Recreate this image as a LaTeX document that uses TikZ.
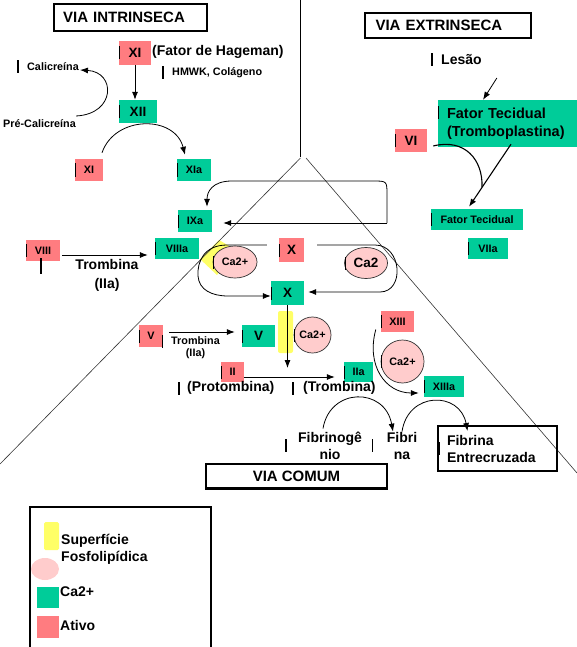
\documentclass[tikz,border=0pt]{standalone}
\usepackage{fontspec}
\setmainfont{Liberation Sans}
\usetikzlibrary{arrows.meta,shapes.geometric}
\definecolor{ativo}{HTML}{FF7C80}
\definecolor{cagreen}{HTML}{00CC99}
\definecolor{fosfo}{HTML}{FFFF66}
\definecolor{ionpink}{HTML}{FFCCCC}
\newcommand{\fbig}{\fontsize{13.5}{16}\selectfont\bfseries}
\newcommand{\fmid}{\fontsize{14}{17}\selectfont\bfseries}
\newcommand{\fsml}{\fontsize{10.8}{12}\selectfont\bfseries}
\newcommand{\ftitle}{\fontsize{15}{18}\selectfont\bfseries}
\tikzset{
    curbar/.style={fill=black,inner sep=0pt,minimum width=1.2pt,minimum height=13pt,anchor=center},
    cur/.style={label={[curbar,xshift=#1]west:{}}},
    cur/.default=1pt,
    sz/.style 2 args={minimum width=#1pt,minimum height=#2pt},
    factor/.style={rectangle,inner sep=0pt,font=\fsml},
    ativ/.style={factor,fill=ativo},
    cal/.style={factor,fill=cagreen},
    caion/.style={ellipse,draw=black!80,line width=0.7pt,fill=ionpink,inner sep=0pt,font=\fsml},
    txt/.style={inner sep=0pt,font=\fmid,align=center},
    titlebox/.style={draw,line width=2.4pt,inner ysep=0pt,inner xsep=9pt,align=left,font=\ftitle},
    endbox/.style={draw,line width=2pt,inner ysep=0pt,inner xsep=9pt,align=left,font=\fmid},
    arr/.style={-{Latex[length=8pt,width=6pt]},line width=0.8pt},
    guide/.style={line width=0.6pt,black!80}
}
\begin{document}
\begin{tikzpicture}[x=1pt,y=-1pt]
    \useasboundingbox (0,0) rectangle (577,647);
    % phospholipid surfaces
    \fill[fosfo] (200,259) -- (219,240) -- (236,250) -- (217,275) -- cycle;
    \fill[fosfo,rounded corners=2pt] (278,311) rectangle (293,353);
    % dividing lines
    \draw[guide,black] (300,0) -- (300,157);
    \draw[guide] (300.5,158) -- (0,464);
    \draw[guide] (306,158) -- (577,473);

    % titles
    \node[titlebox,sz={152.6}{26.6},text width=134.6pt] (intr) at (130.5,17.5) {VIA INTRINSECA};
    \node[titlebox,sz={165.6}{24.6},text width=145pt,inner xsep=10pt] (extr) at (448,25.5) {VIA EXTRINSECA};
    \node[titlebox,sz={181}{24.6},align=center] (comum) at (296.5,476) {VIA COMUM};

    % intrinsic pathway
    \node[ativ,sz={32}{24},font=\fbig,cur] (xi) at (135,53) {XI};
    \node[txt,anchor=west] (hageman) at (152,52) {(Fator de Hageman)};
    \node[inner sep=0pt,font=\fsml,anchor=west,cur=-9pt] (hmwk) at (172,73) {HMWK, Colágeno};
    \node[inner sep=0pt,font=\fsml,anchor=west,cur=-9pt] (calic) at (27,67) {Calicreína};
    \node[inner sep=0pt,font=\fsml,anchor=west] (precal) at (3,124) {Pré-Calicreína};
    \node[cal,sz={38}{23},font=\fbig,cur] (xii) at (138,111.5) {XII};
    \node[ativ,sz={28}{22},cur] (xis) at (89,170) {XI};
    \node[cal,sz={34}{22},cur] (xia) at (194,170) {XIa};
    \node[cal,sz={34}{22},cur] (ixa) at (195,221) {IXa};
    \node[ativ,sz={34}{21},cur,label={[curbar,minimum height=16pt,xshift=-2pt,yshift=-5pt]south:{}}] (viii) at (43,250.5) {VIII};
    \node[cal,sz={44}{21},cur] (viiia) at (177,248.5) {VIIIa};
    \node[txt,font={\fontsize{14}{19}\selectfont\bfseries}] (tromba) at (107,275.5) {Trombina\\(IIa)};

    % common pathway
    \node[ativ,sz={25}{24},font=\fbig,cur] (xr) at (291.5,250) {X};
    \node[caion,sz={44}{32},cur] (caa) at (235,262) {Ca2+};
    \node[caion,sz={43}{31},font=\fbig,cur] (cab) at (366,263) {Ca2};
    \node[cal,sz={33}{24},font=\fbig,cur] (xg) at (287.5,293) {X};
    \node[ativ,sz={24}{22},cur,label={[curbar,xshift=-1pt,yshift=-5.5pt]east:{}}] (vr) at (151,336) {V};
    \node[inner sep=0pt,font=\fsml,align=center] (trombb) at (195.5,348) {Trombina\\(IIa)};
    \node[cal,sz={33}{22},font=\fbig,cur] (vg) at (258.5,336) {V};
    \node[caion,sz={37}{36},cur] (cac) at (312.5,335) {Ca2+};
    \node[ativ,sz={23}{20},cur] (iir) at (232.5,372) {II};
    \node[cal,sz={29}{20},cur] (iia) at (358.5,372) {IIa};
    \node[txt,anchor=west,cur=-8pt] (protomb) at (187,388) {(Protombina)};
    \node[txt,anchor=west,cur=-10pt] (trombc) at (303,388) {(Trombina)};
    \node[ativ,sz={33}{21},cur] (xiii) at (397.5,321.5) {XIII};
    \node[caion,sz={43}{43},cur] (cad) at (402.5,361.5) {Ca2+};
    \node[cal,sz={40}{21},cur] (xiiia) at (444,386.5) {XIIIa};
    \node[txt,cur=-12pt] (fbg) at (330,445.5) {Fibrinogê\\nio};
    \node[txt,cur=-14pt] (fbn) at (402,445.5) {Fibri\\na};
    \node[endbox,sz={119}{45},text width=101pt,cur=2pt] (fibx) at (497.5,448.5) {Fibrina\\Entrecruzada};

    % extrinsic pathway
    \node[txt,anchor=west,cur=-9pt] (lesao) at (441,60) {Lesão};
    \node[cal,sz={139}{47},font={\fontsize{14.5}{18}\selectfont\bfseries},text width=121pt,align=left,
          label={[curbar,xshift=1pt,yshift=11pt]west:{}}] (ftb) at (507.5,123.5) {Fator Tecidual\\(Tromboplastina)};
    \node[ativ,sz={32}{23},font=\fbig,cur] (vi) at (411,140.5) {VI};
    \node[cal,sz={92}{21},cur] (fts) at (477,219.5) {Fator Tecidual};
    \node[cal,sz={40}{21},cur] (viia) at (488,248.5) {VIIa};

    % connectors
    \draw[arr] (xi.south) -- (xi.south |- xii.north);
    \draw[arr] ([yshift=8pt]precal.east) .. controls (116,114) and (116,72) .. ([xshift=1pt,yshift=-3pt]calic.east);
    \draw[arr] ([xshift=13pt,yshift=6pt]xis.north) .. controls (115,115) and (175,115) .. ([xshift=-9pt,yshift=4pt]xia.north);
    \coordinate (loopr) at (387,223);
    \draw[arr] (loopr) -- ([xshift=11pt,yshift=-2pt]ixa.east);
    \draw[arr] (loopr) -- (387,195) .. controls (387,181) .. (373,181) -- (232,181)
        .. controls (212,181) and (207,192) .. ([xshift=12pt,yshift=3pt]ixa.north);
    \draw[arr] ([xshift=2pt,yshift=-4.5pt]viii.east) -- ([xshift=-7pt,yshift=-6.5pt]viiia.west);
    \draw[arr] ([xshift=-12pt,yshift=5pt]xr.west) -- (227,245) .. controls (204,245) and (197,262) .. (198,276)
        .. controls (199,290) and (212,296) .. (228,296) -- ([yshift=-3pt]xg.west);
    \draw[arr] ([xshift=13pt,yshift=5pt]xr.east) -- (375,245) .. controls (402,245) and (405,292) .. (380,292)
        -- ([xshift=4pt,yshift=1pt]xg.east);
    \coordinate (xdown) at (287.5,368);
    \draw[arr] (xg.south) -- (xdown);
    \draw[arr] ([xshift=6pt,yshift=4pt]vr.east) -- ([xshift=-7pt,yshift=4pt]vg.west);
    \draw[arr] ([yshift=-5pt]iir.east) -- ([xshift=-9pt,yshift=-5pt]iia.west);
    \draw[arr] ([xshift=-5pt,yshift=-8pt]xiii.west) .. controls (366,365) and (385,393) .. ([xshift=-5pt,yshift=-6.5pt]xiiia.west);
    \draw[arr] ([xshift=-7pt,yshift=3pt]fbg.north) .. controls (330,387) and (385,387) .. ([xshift=-9pt]fbn.north);
    \draw[arr] (fbn.north) .. controls (408,391) and (460,391) .. ([xshift=-30pt,yshift=-6pt]fibx.north);
    \draw[arr] ([xshift=15pt,yshift=-18pt]lesao.east) -- ([xshift=-24.5pt]ftb.north);
    \coordinate (vimeet) at (482,187);
    \draw[line width=1.1pt] ([xshift=6pt,yshift=-5.5pt]vi.east) .. controls (465,138) and (483,160) .. (vimeet);
    \draw[arr,line width=1.1pt] ([xshift=3.5pt,yshift=3pt]ftb.south) -- ([xshift=-8pt,yshift=2pt]fts.north);

    % legend
    \draw[line width=1.6pt] (29.8,506.8) rectangle (211.2,660);
    \fill[fosfo,rounded corners=1.5pt] (44,522) rectangle (59,550);
    \fill[ionpink] (45,569) ellipse (14pt and 11pt);
    \fill[cagreen] (37,587) rectangle (59,608);
    \fill[ativo] (37,616) rectangle (59,638);
    \node[txt,anchor=west,align=left] (lgsup) at (61,549.5) {Superfície\\Fosfolipídica};
    \node[txt,anchor=west] (lgca) at (60,592) {Ca2+};
    \node[txt,anchor=west] (lgat) at (60,625) {Ativo};
\end{tikzpicture}
\end{document}
